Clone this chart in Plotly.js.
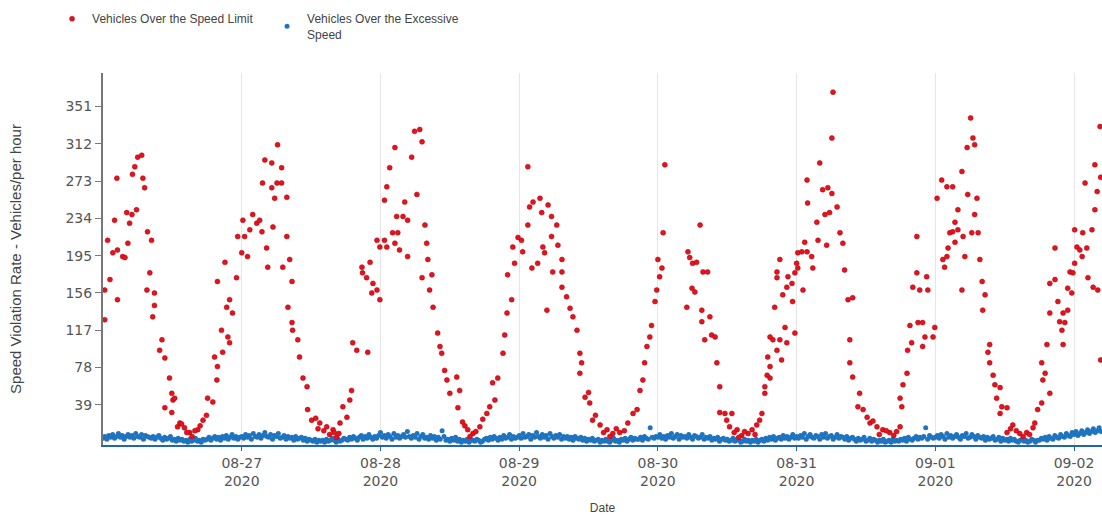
<!DOCTYPE html>
<html>
<head>
<meta charset="utf-8">
<script src="https://cdn.plot.ly/plotly-3.0.1.min.js"></script>
<style>
  html, body { margin: 0; padding: 0; background: #ffffff; }
  #chart { width: 1102px; height: 517px; }
</style>
</head>
<body>
<div id="chart"></div>
<script>
// ---------- DATA ----------
// Red: Vehicles Over the Speed Limit  -> hours after midnight of the given day, and values
const red0826H = [0.3,0.3,0.8,1.2,1.7,2.0,2.4,2.5,2.5,3.4,3.8,4.1,4.3,4.6,5.0,5.1,5.5,5.8,6.0,6.7,6.9,7.2,7.6,7.7,8.1,8.4,8.6,8.9,8.9,9.8,10.2,10.7,10.7,11.5,11.9,11.9,12.1,12.4,12.9,13.3,14.1,15.0,16.4,17.3,17.9,18.1,19.0,19.3,19.7,19.8,19.8,20.5,20.7,21.1,21.4,21.6,21.9,21.9,22.4,23.1,23.3,13.6,14.5,15.4,15.9,16.8];
const red0826V = [159,128,211,170,198,232,276,149,201,194,193,240,208,229,238,280,288,243,298,300,276,266,159,220,177,211,131,156,143,96,107,88,36,67,51,31,44,46,16,20,15,10,13,23,28,46,42,89,65,79,168,117,94,188,141,110,104,149,135,172,215,19,10,6,12,17];

const red0827H = [0.0,0.2,0.5,1.0,1.4,1.9,2.6,3.1,3.5,3.6,4.0,4.3,4.5,5.2,5.2,5.4,5.7,6.1,6.2,6.9,6.9,7.1,7.8,7.8,8.0,8.3,8.7,8.7,8.8,9.7,10.0,10.6,11.3,11.4,12.1,13.5,14.7,15.8,16.4,17.0,17.5,18.2,18.7,19.0,19.2,19.9,20.8,20.9,21.6,21.8,22.2,22.5,22.7,23.4,23.4,23.9,23.9,12.8,13.2,14.2,15.2,16.0,16.8];
const red0827V = [198,232,215,194,222,238,229,232,220,271,295,203,183,266,292,225,255,271,311,271,287,183,256,215,141,191,168,125,117,107,89,67,58,34,23,20,16,13,5,20,37,26,44,54,104,96,183,177,172,94,188,156,166,159,211,149,204,25,14,12,8,10,9];

const red0828H = [0.7,0.7,1.1,1.1,1.6,2.1,2.5,2.5,2.8,3.0,3.3,3.9,4.2,4.7,4.7,5.4,5.9,6.3,6.8,7.2,7.2,7.7,8.0,8.2,8.5,8.9,9.1,9.9,10.3,10.6,11.1,11.5,12.0,13.2,13.4,13.7,14.2,15.1,16.0,17.2,18.4,18.9,19.4,19.8,20.3,21.2,21.5,21.9,22.0,22.7,22.9,23.2,23.8,14.6,15.5,16.5,17.7];
const red0828V = [211,253,204,267,287,219,308,208,236,219,201,236,251,232,194,298,325,259,327,314,172,227,208,191,159,175,141,114,100,93,75,65,51,68,36,54,21,13,9,16,30,37,62,44,67,93,112,135,175,149,204,187,214,17,6,11,24];

const red0829H = [0.4,0.6,1.5,1.5,1.8,2.2,2.4,3.2,3.6,3.9,4.1,4.4,4.8,5.0,5.6,5.6,5.8,6.5,6.7,7.4,7.4,7.4,8.2,8.8,9.3,10.0,10.5,10.5,10.8,11.4,12.2,12.7,14.0,15.2,16.2,17.4,18.8,19.7,20.4,20.9,21.4,21.7,22.1,22.6,22.9,23.5,23.8,12.0,13.2,14.6,15.7,16.8,18.2];
const red0829V = [211,199,227,288,246,182,251,187,255,240,204,198,138,248,236,215,178,227,206,191,178,162,152,140,131,117,93,72,83,47,41,23,18,13,9,10,20,30,34,54,65,83,100,110,122,147,159,52,28,10,6,14,12];

const red0830H = [0.0,0.3,0.7,0.9,1.2,5.0,5.2,5.5,5.9,6.0,6.4,6.7,7.3,7.6,7.6,7.8,8.1,8.6,9.0,9.3,9.9,10.2,10.7,10.7,11.6,11.9,12.4,12.8,13.7,14.5,15.6,16.3,17.1,17.6,18.0,18.5,18.5,18.9,19.0,19.4,19.4,19.4,19.9,20.2,20.6,20.6,20.6,21.1,21.1,21.4,21.6,22.0,22.3,22.3,22.5,23.2,23.3,23.7,23.7,13.2,14.0,15.0,16.8];
const red0830V = [191,173,182,219,290,141,199,193,161,187,157,188,227,138,126,178,107,178,131,112,110,83,58,31,30,23,16,30,13,7,9,13,18,23,30,51,58,70,89,67,79,110,107,141,96,178,172,107,191,86,154,120,104,162,173,166,147,114,177,10,5,11,8];

const red0831H = [0.0,0.2,0.2,0.9,1.1,1.4,1.8,1.9,1.8,2.6,2.8,3.5,3.7,4.0,4.5,4.9,5.2,5.4,5.7,6.1,6.1,6.3,7.0,7.5,8.0,8.3,8.9,9.2,9.2,9.7,9.7,10.6,10.9,11.5,12.2,12.7,13.9,14.9,16.1,17.9,17.9,18.2,18.4,19.1,19.2,19.6,19.9,20.1,20.8,20.8,21.0,21.3,21.8,21.8,22.2,22.5,22.7,23.6,23.9,13.2,14.3,15.5,16.8,17.3];
const red0831V = [187,182,198,199,159,209,199,250,274,194,182,230,211,292,264,238,206,266,240,260,318,366,246,219,208,180,149,107,83,151,68,37,51,34,26,20,16,13,10,16,46,37,60,72,96,122,104,162,177,215,125,159,125,100,110,173,159,110,120,22,8,12,7,11];

const red0901H = [0.3,1.1,1.3,1.6,2.0,2.0,2.2,2.5,3.0,3.0,3.4,3.4,3.9,3.9,4.6,4.6,4.8,5.1,5.5,5.6,6.1,6.3,6.5,6.8,6.8,7.2,7.4,7.7,8.1,8.2,8.6,9.1,9.4,9.4,10.0,10.3,10.6,11.2,11.2,11.5,12.4,12.4,13.4,14.6,15.8,16.9,17.7,18.4,18.4,18.6,19.0,19.3,19.8,19.8,19.8,20.7,20.7,21.2,21.5,21.9,22.1,22.1,22.4,22.9,22.9,23.3,23.6,23.8,13.0,14.0,15.2,16.3,17.2];
const red0901V = [255,274,191,183,267,194,203,219,267,220,230,209,243,222,283,159,215,194,308,259,339,219,318,311,238,255,219,191,168,138,154,94,102,83,70,60,46,57,30,37,36,10,18,9,10,15,34,41,83,65,72,102,51,135,166,170,203,147,126,117,135,102,125,138,161,178,156,177,14,12,6,8,20];

const red0902H = [0.1,0.1,0.5,1.0,1.4,1.5,1.9,2.2,2.4,3.1,3.3,3.6,3.6,4.0,4.1,4.5,4.6,4.6];
const red0902V = [187,222,204,201,194,219,271,203,172,222,162,290,243,262,159,330,86,277];

// Blue: Vehicles Over the Excessive Speed -> one value every 20 minutes from midnight of each day
const blue0826 = [4,6,3,7,5,8,4,6,9,5,7,3,6,8,5,7,4,9,6,5,8,3,7,6,
  5,4,6,3,5,7,4,2,5,3,4,6,2,3,1,4,2,3,
  1,2,0,3,1,2,4,1,2,0,3,2,
  3,5,2,4,6,3,5,2,6,4,7,3,5,8,4,6,3,5];
const blue0827 = [6,4,8,5,7,3,9,6,5,8,4,7,10,6,5,8,3,7,6,9,4,5,7,3,
  6,4,5,2,6,3,4,5,2,4,1,3,
  2,1,3,0,2,1,2,0,3,1,2,4,
  2,0,3,1,2,4,
  3,2,5,3,6,4,2,5,7,3,6,4,8,5,3,6,4,7];
const blue0828 = [10,5,7,4,8,6,3,9,5,7,4,6,8,5,11,6,4,7,5,9,3,6,8,4,
  5,3,7,4,6,2,5,3,12,6,2,3,1,4,2,5,1,3,
  0,2,1,3,0,2,2,1,3,2,0,1,
  3,4,2,5,3,6,4,2,5,3,7,4,5,8,3,6,4,5];
const blue0829 = [7,4,9,5,6,8,3,7,5,10,6,4,8,5,7,3,9,6,4,7,5,8,3,6,
  4,6,3,5,2,6,4,3,5,2,4,1,3,2,4,1,2,3,
  0,2,1,3,1,0,2,4,1,2,0,3,
  2,4,1,3,5,2,4,3,3,5,2,6,4,3,15,5,4,6];
const blue0830 = [5,8,4,6,3,7,5,9,4,6,8,3,7,5,6,4,8,5,3,7,6,4,5,8,
  3,5,4,6,2,4,3,5,1,3,4,2,3,1,2,4,1,3,
  2,0,1,3,1,2,0,2,1,3,0,2,
  3,1,4,2,5,3,6,2,4,5,3,7,4,6,3,5,8,4];
const blue0831 = [6,4,7,5,9,3,6,8,5,4,7,6,3,8,5,9,4,6,7,3,5,8,4,6,
  5,3,6,2,4,5,3,1,4,2,3,5,1,2,4,1,3,2,
  0,2,1,3,0,1,2,0,3,1,2,1,
  3,2,4,1,5,3,2,4,6,3,5,4,6,15,3,7,5,4];
const blue0901 = [5,7,4,8,6,3,9,5,7,4,6,8,5,3,7,6,9,4,5,8,6,3,7,5,
  4,6,2,5,3,4,6,2,3,5,1,4,2,3,1,4,2,3,
  1,0,2,3,1,2,0,1,3,2,0,2,
  2,4,3,5,2,6,4,3,7,5,4,8,6,5,9,7,6,10];
const blue0902 = [8,11,7,9,12,8,10,13,9,11,14,10,12,15,11];

const dayLabels = ['2020-08-26','2020-08-27','2020-08-28','2020-08-29','2020-08-30','2020-08-31','2020-09-01','2020-09-02'];
const xTickVals = ['2020-08-27','2020-08-28','2020-08-29','2020-08-30','2020-08-31','2020-09-01','2020-09-02'];
const xTickText = ['08-27<br>2020','08-28<br>2020','08-29<br>2020','08-30<br>2020','08-31<br>2020','09-01<br>2020','09-02<br>2020'];
const yTickVals = [39,78,117,156,195,234,273,312,351];
const seriesNames = ['Vehicles Over the Speed Limit', 'Vehicles Over the Excessive<br>Speed'];
const blueStepMinutes = 20;

// ---------- BUILD ----------
function stamp(day, hours) {
  const ms = Date.parse(day + 'T00:00:00Z') + hours * 3600000;
  return new Date(ms).toISOString().slice(0, 19).replace('T', ' ');
}
const redSets = [[red0826H, red0826V],[red0827H, red0827V],[red0828H, red0828V],[red0829H, red0829V],
                 [red0830H, red0830V],[red0831H, red0831V],[red0901H, red0901V],[red0902H, red0902V]];
const blueSets = [blue0826, blue0827, blue0828, blue0829, blue0830, blue0831, blue0901, blue0902];

const redX = [], redY = [];
redSets.forEach((s, d) => {
  s[0].forEach((h, i) => { redX.push(stamp(dayLabels[d], h)); redY.push(s[1][i]); });
});
const blueX = [], blueY = [];
blueSets.forEach((arr, d) => {
  arr.forEach((v, i) => { blueX.push(stamp(dayLabels[d], i * blueStepMinutes / 60)); blueY.push(v); });
});

const traces = [
  { type: 'scatter', mode: 'markers', x: blueX, y: blueY, name: seriesNames[1],
    marker: { color: '#1f74c0', size: 5 }, legendrank: 2 },
  { type: 'scatter', mode: 'markers', x: redX, y: redY, name: seriesNames[0],
    marker: { color: '#e3141c', size: 5, line: { color: '#b00010', width: 0.5 } }, legendrank: 1 }
];

const tickFont = { family: 'DejaVu Sans, Arial, sans-serif', size: 14, color: '#555' };
const layout = {
  width: 1102, height: 517,
  margin: { l: 103, r: 0, t: 73, b: 72, pad: 0 },
  paper_bgcolor: '#ffffff', plot_bgcolor: '#ffffff',
  showlegend: true,
  legend: {
    orientation: 'h', x: -0.051, xanchor: 'left', y: 1.185, yanchor: 'top',
    font: { family: 'Liberation Sans, Arial, sans-serif', size: 12, color: '#444' },
    entrywidth: 170, entrywidthmode: 'pixels',
    bgcolor: 'rgba(0,0,0,0)'
  },
  xaxis: {
    type: 'date',
    range: ['2020-08-26 00:00', '2020-09-02 04:50'],
    tickmode: 'array', tickvals: xTickVals, ticktext: xTickText,
    tickfont: tickFont,
    ticks: 'outside', ticklen: 4, tickcolor: '#2166ac',
    showgrid: true, gridcolor: '#e6e6e6', gridwidth: 1,
    showline: true, linecolor: '#2166ac', linewidth: 2,
    zeroline: false,
    title: { text: 'Date', font: { family: 'Liberation Sans, Arial, sans-serif', size: 12, color: '#444' }, standoff: 16 }
  },
  yaxis: {
    range: [-3, 386],
    tickmode: 'array', tickvals: yTickVals,
    tickfont: tickFont,
    ticks: 'outside', ticklen: 6, tickcolor: '#777',
    showgrid: false, zeroline: false,
    showline: true, linecolor: '#777', linewidth: 2,
    title: { text: 'Speed Violation Rate - Vehicles/per hour', font: { family: 'Liberation Sans, Arial, sans-serif', size: 15, color: '#444' }, standoff: 40 },
    automargin: false
  }
};

Plotly.newPlot('chart', traces, layout, { displayModeBar: false, staticPlot: true });
</script>
</body>
</html>
